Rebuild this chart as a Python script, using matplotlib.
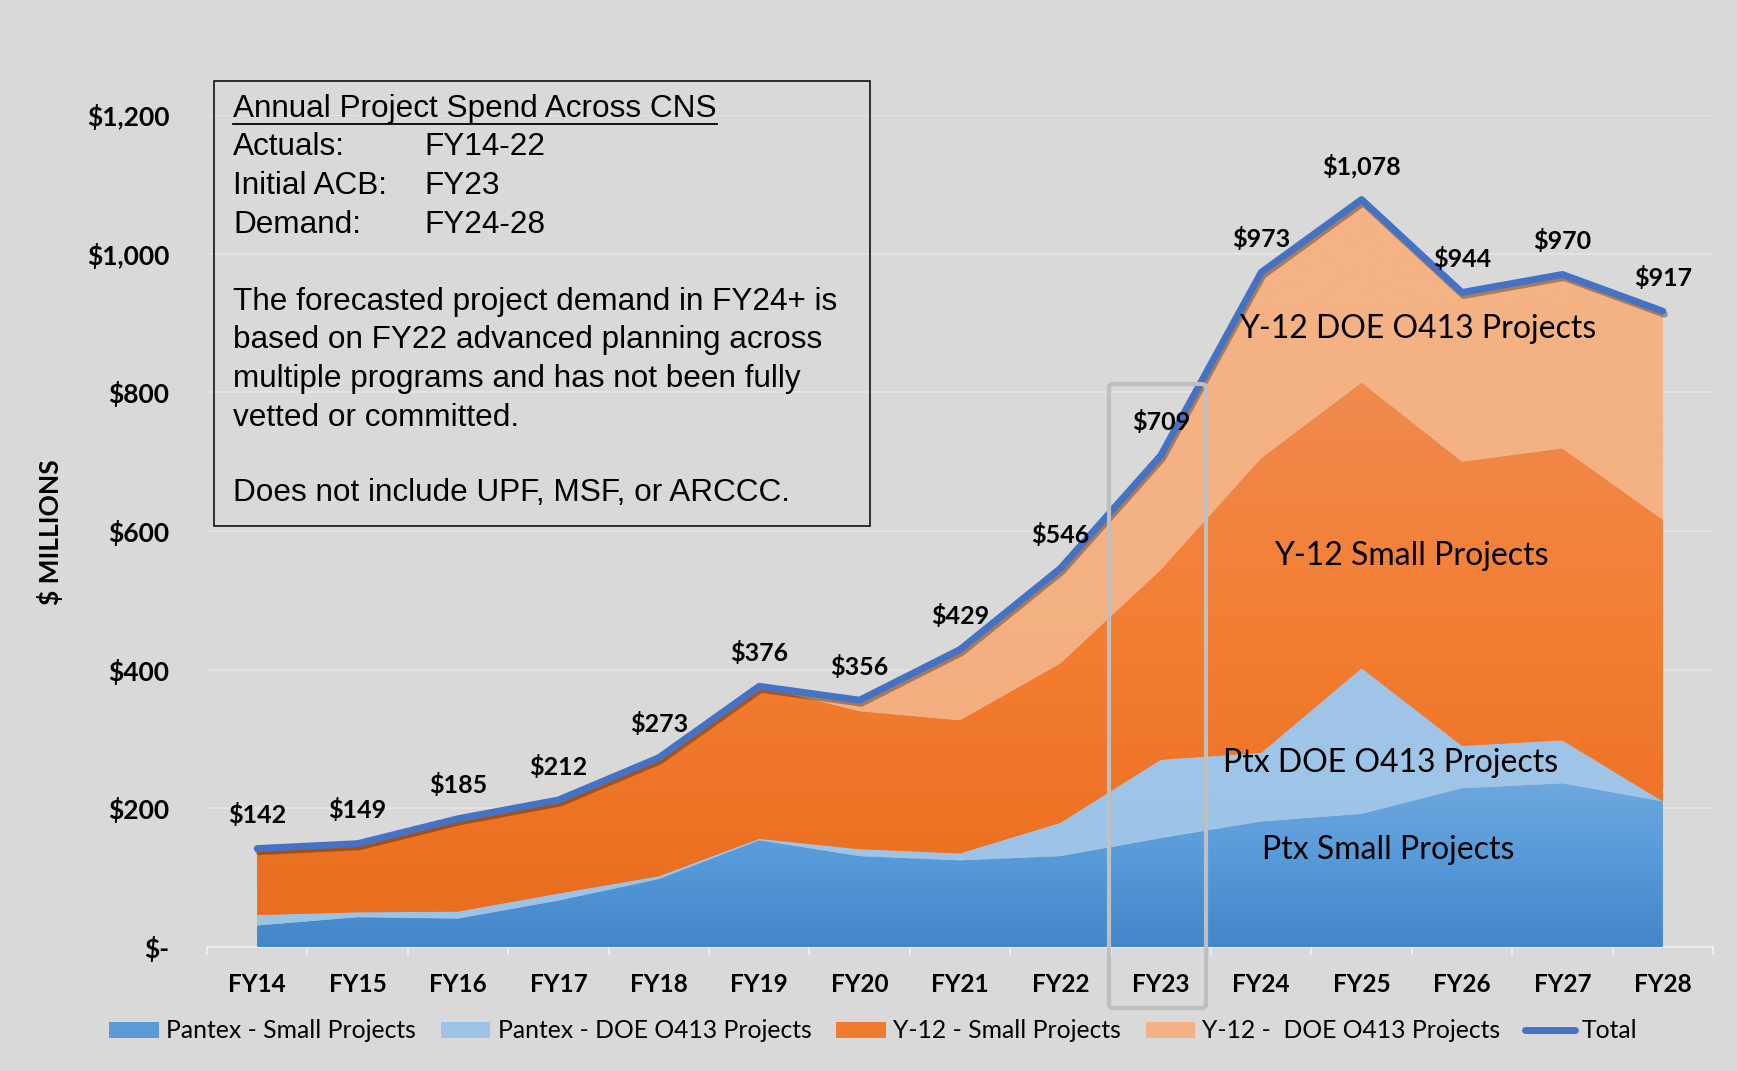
import numpy as np
import matplotlib
matplotlib.use('Agg')
import matplotlib.pyplot as plt
from matplotlib.colors import LinearSegmentedColormap
from matplotlib.patches import Rectangle, FancyBboxPatch, Patch
from matplotlib.lines import Line2D
import matplotlib.patheffects as pe

# ---------------- data ----------------
years = ['FY14', 'FY15', 'FY16', 'FY17', 'FY18', 'FY19', 'FY20', 'FY21',
         'FY22', 'FY23', 'FY24', 'FY25', 'FY26', 'FY27', 'FY28']
pantex_small = [31, 43, 41, 67, 98, 154, 131, 125, 131, 157, 181, 192, 229, 236, 210]
pantex_doe = [15, 7, 10, 10, 4, 2, 10, 10, 48, 113, 99, 210, 61, 62, 0]
y12_small = [96, 99, 134, 135, 171, 220, 199, 192, 230, 274, 425, 412, 410, 421, 406]
y12_doe = [0, 0, 0, 0, 0, 0, 16, 102, 137, 165, 268, 264, 244, 251, 301]
totals = [142, 149, 185, 212, 273, 376, 356, 429, 546, 709, 973, 1078, 944, 970, 917]

series_names = ['Pantex - Small Projects', 'Pantex - DOE O413 Projects',
                'Y-12 - Small Projects', 'Y-12 -  DOE O413 Projects']
y_ticks = [0, 200, 400, 600, 800, 1000, 1200]
y_tick_labels = ['$-', '$200', '$400', '$600', '$800', '$1,000', '$1,200']

# ---------------- figure ----------------
W, H = 1737, 1071
BG = '#d9d9d9'
fig = plt.figure(figsize=(W / 100, H / 100), dpi=100, facecolor=BG)

def fx(px):
    return px / W

def fy(py):
    return 1 - py / H

ax = fig.add_axes([fx(207), fy(947), fx(1713) - fx(207), fy(115) - fy(947)])
ax.set_facecolor(BG)

CAL = 'Lato'
x = np.arange(len(years))

mid_colors = ['#5B9BD5', '#9DC3E6', '#F07B2C', '#F4B183']
grad_stops = [
    ['#4386C9', '#5599D9', '#6EA7DD'],
    ['#9CC2E6', '#9EC4E7', '#A0C5E7'],
    ['#E96E1F', '#F47D30', '#EF8A4E'],
    ['#F3AE7F', '#F4B183', '#F4B386'],
]
series = [pantex_small, pantex_doe, y12_small, y12_doe]

polys = ax.stackplot(x, *series, colors=mid_colors, edgecolor='none',
                     linewidth=0, zorder=2)
base = np.zeros(len(x))
for poly, vals, stops in zip(polys, series, grad_stops):
    top = base + np.array(vals, dtype=float)
    lo, hi = base.min(), top.max()
    cmap = LinearSegmentedColormap.from_list('g', stops)
    im = ax.imshow(np.linspace(0, 1, 256).reshape(-1, 1),
                   extent=[x[0], x[-1], lo, hi], origin='lower',
                   aspect='auto', cmap=cmap, zorder=2.1,
                   interpolation='bilinear')
    im.set_clip_path(poly.get_paths()[0], ax.transData)
    base = top

# total line
ax.plot(x, totals, color='#4472C4', lw=5, solid_joinstyle='round',
        solid_capstyle='round', zorder=5,
        path_effects=[pe.SimpleLineShadow(offset=(1.2, -2.2), alpha=0.3,
                                          shadow_color='black'),
                      pe.Normal()])

# data labels
for xi, v in zip(x, totals):
    ax.annotate(f'${v:,}', (xi, v), xytext=(0, 24), textcoords='offset points',
                ha='center', va='center', fontsize=18, fontweight='bold',
                family=CAL, color='black', zorder=7)

# area annotations
ax.text(11.56, 891, 'Y-12 DOE O413 Projects', ha='center', va='center',
        fontsize=23, family=CAL, zorder=6)
ax.text(11.49, 564, 'Y-12 Small Projects', ha='center', va='center',
        fontsize=23, family=CAL, zorder=6)
ax.text(11.29, 265, 'Ptx DOE O413 Projects', ha='center', va='center',
        fontsize=23, family=CAL, zorder=6)
ax.text(11.26, 140, 'Ptx Small Projects', ha='center', va='center',
        fontsize=23, family=CAL, zorder=6)

ax.set_xlim(-0.5, 14.5)
ax.set_ylim(0, 1200)

# axes styling
for s in ['top', 'right', 'left']:
    ax.spines[s].set_visible(False)
ax.spines['bottom'].set_color('#ededed')
ax.spines['bottom'].set_linewidth(1.5)
ax.spines['bottom'].set_zorder(1)

ax.set_yticks(y_ticks)
ax.set_yticklabels(y_tick_labels, fontsize=19, fontweight='bold', family=CAL)
ax.tick_params(axis='y', length=0, pad=27)
ax.yaxis.grid(True, color='#e6e6e6', lw=1.2, zorder=0)
ax.set_axisbelow(True)

ax.set_xticks(x)
ax.set_xticklabels(years, fontsize=17.5, fontweight='bold', family=CAL)
ax.set_xticks(np.arange(-0.5, 15, 1.0), minor=True)
ax.tick_params(axis='x', which='major', length=0, pad=19)
ax.tick_params(axis='x', which='minor', length=6, width=1.5, color='#ededed',
               direction='out')

fig.text(fx(50), fy(532), '$ MILLIONS', rotation=90, ha='center', va='center',
         fontsize=19, fontweight='bold', family=CAL)

# FY23 highlight rectangle
rect = FancyBboxPatch((fx(1109), fy(1008)), fx(1206) - fx(1109), fy(384) - fy(1008),
                      boxstyle='round,pad=0,rounding_size=0.003',
                      transform=fig.transFigure, fill=False, ec='#bfbfbf',
                      lw=3, zorder=4)
fig.add_artist(rect)

# text box
fig.add_artist(Rectangle((fx(214), fy(526)), fx(870) - fx(214), fy(81) - fy(526),
                         transform=fig.transFigure, fill=False, ec='black',
                         lw=1.1, zorder=8))
ARIAL = 'Liberation Sans'
TS = 22.7
title_t = fig.text(fx(233), fy(108.6), 'Annual Project Spend Across CNS',
                   ha='left', va='center', fontsize=TS, family=ARIAL, zorder=9)
rows = [('Actuals:', 'FY14-22', 147.3), ('Initial ACB:', 'FY23', 186),
        ('Demand:', 'FY24-28', 225)]
for a, b, yy in rows:
    fig.text(fx(233), fy(yy), a, ha='left', va='center', fontsize=TS, family=ARIAL)
    fig.text(fx(424), fy(yy), b, ha='left', va='center', fontsize=TS, family=ARIAL)
para = [('The forecasted project demand in FY24+ is', 302.4),
        ('based on FY22 advanced planning across', 340),
        ('multiple programs and has not been fully', 379),
        ('vetted or committed.', 417.7),
        ('Does not include UPF, MSF, or ARCCC.', 493)]
for s, yy in para:
    fig.text(fx(233), fy(yy), s, ha='left', va='center', fontsize=TS, family=ARIAL)

fig.canvas.draw()
bb = title_t.get_window_extent(renderer=fig.canvas.get_renderer())
fig.add_artist(Line2D([bb.x0 / W, bb.x1 / W], [fy(124), fy(124)],
                      transform=fig.transFigure, color='black', lw=1.3))

# legend
handles = [Patch(facecolor=c, edgecolor='none') for c in mid_colors]
handles.append(Line2D([0], [0], color='#4472C4', lw=5, solid_capstyle='round'))
labels = series_names + ['Total']
fig.legend(handles, labels, loc='center', bbox_to_anchor=(fx(873.5), fy(1031)),
           ncol=5, frameon=False, prop={'family': CAL, 'size': 17.8},
           handlelength=2.0, handleheight=0.6, handletextpad=0.3,
           columnspacing=1.0)

fig.savefig('out.png', dpi=100, facecolor=BG)
